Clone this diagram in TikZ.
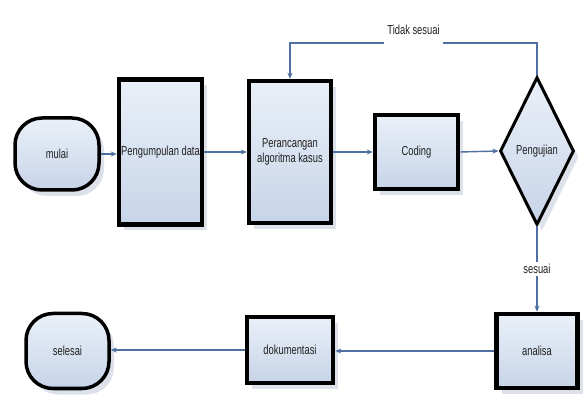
\documentclass[tikz,border=0pt]{standalone}
\usepackage{fontspec}
\newfontfamily\lblfont[FakeStretch=0.72]{Liberation Sans}
\usetikzlibrary{shapes.geometric,arrows.meta,shadows}
\definecolor{conn}{HTML}{4F6FA0}
\definecolor{filltop}{HTML}{EAF0F8}
\definecolor{fillbot}{HTML}{C7D4E8}
\definecolor{shadowc}{HTML}{D5DAE3}
\definecolor{txt}{HTML}{202020}
\begin{document}
\begin{tikzpicture}[x=1pt,y=-1pt,
  base/.style={draw=black, top color=filltop, bottom color=fillbot,
    text=txt, font=\lblfont\fontsize{13}{15}\selectfont, align=center, inner sep=1pt,
    drop shadow={shadow xshift=5pt, shadow yshift=-6pt, fill=shadowc, opacity=0.8}},
  procbox/.style={base, rectangle, line width=4.5pt},
  termbox/.style={base, rectangle, rounded corners=27pt, line width=3.5pt},
  decbox/.style={base, diamond, line width=3pt, aspect=0.5, inner sep=0pt},
  flow/.style={draw=conn, line width=1.4pt, -{Stealth[length=6pt,width=5pt]}},
  flowlbl/.style={fill=white, text=txt, font=\lblfont\fontsize{13}{15}\selectfont, inner sep=2pt}
]
\useasboundingbox (0,0) rectangle (587,398);

\node[termbox, minimum width=84pt, minimum height=72pt] (mulai) at (57,154) {mulai};
\node[procbox, minimum width=83pt, minimum height=145pt] (peng) at (160.5,152) {Pengumpulan data};
\node[procbox, minimum width=82pt, minimum height=142pt] (peran) at (290,152) {Perancangan\\algoritma kasus};
\node[procbox, minimum width=83pt, minimum height=74pt] (coding) at (416.5,152) {Coding};
\node[decbox, minimum width=74pt, minimum height=148pt] (uji) at (537,151) {Pengujian};

\node[procbox, minimum width=81pt, minimum height=74pt] (analisa) at (537,351) {analisa};
\node[procbox, minimum width=86pt, minimum height=66pt] (dok) at (290,350) {dokumentasi};
\node[termbox, minimum width=83pt, minimum height=75pt] (selesai) at (67.5,351) {selesai};

\coordinate (top) at (0,43);

\draw[flow] (mulai.east) -- (mulai.east -| peng.west);
\draw[flow] (peng.east) -- (peng.east -| peran.west);
\draw[flow] (peran.east) -- (peran.east -| coding.west);
\draw[flow] (coding.east) -- (uji.west);
\draw[flow] (uji.north) -- (uji.north |- top) -- node[flowlbl, yshift=13pt, minimum height=28pt, inner xsep=3pt] {Tidak sesuai} (peran.north |- top) -- (peran.north);
\draw[flow] (uji.south) -- node[flowlbl, pos=0.5] {sesuai} (analisa.north);
\draw[flow] (analisa.west) -- (analisa.west -| dok.east);
\draw[flow] (dok.west) -- (dok.west -| selesai.east);
\end{tikzpicture}
\end{document}
